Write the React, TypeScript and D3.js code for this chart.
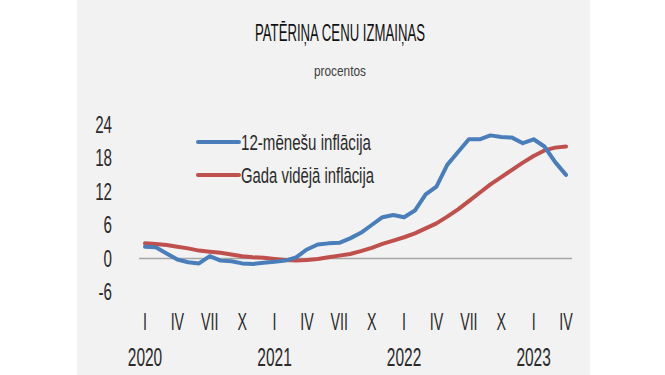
import React from "react";
import * as d3 from "d3";

const years = [2020, 2021, 2022, 2023];
const monthsPerYear = 12;
const totalMonths = 40;

// 12-month inflation (%), Jan 2020 - Apr 2023
const inflation12m = [
  2.1, 2.0, 0.9, -0.2, -0.7, -0.9, 0.4, -0.4, -0.5, -0.9, -1.0, -0.8,
  -0.6, -0.4, 0.2, 1.6, 2.5, 2.7, 2.8, 3.6, 4.6, 6.0, 7.4, 7.8,
  7.4, 8.6, 11.5, 12.9, 16.8, 19.1, 21.4, 21.4, 22.1, 21.8, 21.7, 20.7,
  21.4, 20.1, 17.3, 15.0,
];

// Annual average inflation (%)
const inflationAvg = [
  2.7, 2.6, 2.4, 2.1, 1.8, 1.4, 1.2, 1.0, 0.7, 0.4, 0.2, 0.1,
  -0.1, -0.3, -0.4, -0.3, -0.1, 0.2, 0.5, 0.8, 1.3, 1.9, 2.6, 3.2,
  3.8, 4.5, 5.4, 6.3, 7.5, 8.8, 10.3, 11.8, 13.3, 14.6, 15.9, 17.2,
  18.4, 19.4, 19.9, 20.1,
];

const yTicks = [-6, 0, 6, 12, 18, 24];
const quarterLabels = ["I", "IV", "VII", "X"];
const seriesNames = ["12-mēnešu inflācija", "Gada vidējā inflācija"];
const title = "PATĒRIŅA CENU IZMAIŅAS";
const subtitle = "procentos";

const W = 665;
const H = 375;
const FONT = "'Liberation Sans', Arial, sans-serif";
const BLUE = "#4a7ebb";
const RED = "#c0504d";

function NText(props: {
  x: number;
  y: number;
  anchor?: "start" | "middle" | "end";
  size?: number;
  sx?: number;
  fill?: string;
  children: React.ReactNode;
}) {
  const { x, y, anchor = "middle", size = 21, sx = 0.62, fill = "#2b2b2b", children } = props;
  return (
    <g transform={`translate(${x},${y}) scale(${sx},1)`}>
      <text x={0} y={0} dy="0.36em" textAnchor={anchor} fontSize={size} fill={fill}>
        {children}
      </text>
    </g>
  );
}

export default function App() {
  const x = d3.scaleLinear().domain([0, totalMonths - 1]).range([145, 566]);
  const y = d3.scaleLinear().domain([-6, 24]).range([291.8, 124.8]);

  const line = d3
    .line<number>()
    .x((_, i) => x(i))
    .y((d) => y(d))
    .curve(d3.curveLinear);

  const quarterTicks: { i: number; label: string }[] = [];
  for (let i = 0; i < totalMonths; i += 3) {
    quarterTicks.push({ i, label: quarterLabels[(i % 12) / 3] });
  }

  const legendY = [142, 175];
  const legendW = [130, 133];

  return (
    <svg
      width={W}
      height={H}
      style={{ position: "absolute", left: 0, top: 0, background: "#ffffff" }}
      fontFamily={FONT}
    >
      <rect x={77} y={0} width={513} height={H} fill="#f2f2f2" />
      <text
        x={340}
        y={41}
        textAnchor="middle"
        fontSize={23}
        fill="#111"
        textLength={170}
        lengthAdjust="spacingAndGlyphs"
      >
        {title}
      </text>
      <text
        x={340}
        y={76}
        textAnchor="middle"
        fontSize={15}
        fill="#404040"
        textLength={52}
        lengthAdjust="spacingAndGlyphs"
      >
        {subtitle}
      </text>

      {yTicks.map((t) => (
        <NText key={t} x={112} y={y(t)} anchor="end" size={23} sx={0.66}>
          {t}
        </NText>
      ))}

      <line x1={139} x2={572} y1={y(0)} y2={y(0)} stroke="#a6a6a6" strokeWidth={1.5} />

      <path d={line(inflationAvg) || ""} fill="none" stroke={RED} strokeWidth={4} strokeLinejoin="round" strokeLinecap="round" />
      <path d={line(inflation12m) || ""} fill="none" stroke={BLUE} strokeWidth={4} strokeLinejoin="round" strokeLinecap="round" />

      {quarterTicks.map((q) => (
        <NText key={q.i} x={x(q.i)} y={322} size={23} sx={0.62}>
          {q.label}
        </NText>
      ))}
      {years.map((yr, k) => (
        <NText key={yr} x={x(k * monthsPerYear)} y={357} size={25} sx={0.62}>
          {yr}
        </NText>
      ))}

      {seriesNames.map((name, k) => (
        <g key={name}>
          <line x1={198} x2={239} y1={legendY[k]} y2={legendY[k]} stroke={k === 0 ? BLUE : RED} strokeWidth={4} strokeLinecap="round" />
          <text
            x={241}
            y={legendY[k]}
            dy="0.36em"
            fontSize={22}
            fill="#2b2b2b"
            textLength={legendW[k]}
            lengthAdjust="spacingAndGlyphs"
          >
            {name}
          </text>
        </g>
      ))}
    </svg>
  );
}
